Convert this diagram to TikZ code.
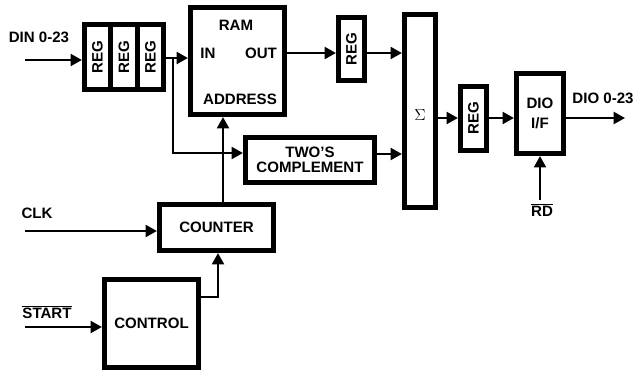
\documentclass[tikz,border=0pt]{standalone}
\usepackage{fontspec}
\setmainfont{Liberation Sans}
\usetikzlibrary{arrows.meta,calc}
\begin{document}
\begin{tikzpicture}[x=0.75pt,y=-0.75pt,
  lbl/.style={font=\bfseries\fontsize{11.3}{13}\selectfont, inner sep=0pt, align=center},
  blk/.style={draw, line width=3.5pt, fill=white, inner sep=0pt},
  sz/.style 2 args={minimum width={0.75pt*(#1-4.5)}, minimum height={0.75pt*(#2-4.5)}},
  con/.style={line width=1.6pt, -{Triangle[length=8.5pt,width=9pt]}},
  ln/.style={line width=1.6pt}]
\useasboundingbox (0,0) rectangle (634,373);
% blocks
\node[blk,sz={31}{70}] (r1) at (97.5,57) {};
\node[blk,sz={31}{70}] (r2) at (124,57) {};
\node[blk,sz={31}{70}] (r3) at (150.5,57) {};
\node[lbl,rotate=90] (t1) at (r1) {REG};
\node[lbl,rotate=90] (t2) at (r2) {REG};
\node[lbl,rotate=90] (t3) at (r3) {REG};
\node[blk,sz={99}{112}] (ram) at (237.5,61) {};
\node[lbl] (tram) at (236,25) {RAM};
\node[lbl] (tin) at (208,53) {IN};
\node[lbl] (tout) at (261,53) {OUT};
\node[lbl] (tadr) at (240,99) {ADDRESS};
\node[blk,sz={134}{50},lbl] (twoc) at (310,160) {TWO’S\\[-2pt]COMPLEMENT};
\node[blk,sz={119}{51},lbl] (ctr) at (216.5,227.5) {COUNTER};
\node[blk,sz={99}{93},lbl] (ctl) at (151.5,323.5) {CONTROL};
\node[blk,sz={31}{68}] (rb) at (351.5,49) {};
\node[lbl,rotate=90] (tb) at (rb) {REG};
\node[blk,sz={36}{198}] (sig) at (420,111) {};
\node[font=\fontsize{11.5}{13}\selectfont, inner sep=0pt] (tsig) at (420,115) {$\Sigma$};
\node[blk,sz={31}{69}] (rc) at (473.5,118.5) {};
\node[lbl,rotate=90] (tc) at (rc) {REG};
\node[blk,sz={52}{85},lbl] (dio) at (540,113.5) {DIO\\[2pt]I/F};
% labels
\node[lbl] (ldin) at (39,37) {DIN 0-23};
\node[lbl] (lclk) at (37,213) {CLK};
\node[lbl] (lstart) at (47,312) {$\overline{\mbox{\bfseries START}}$};
\node[lbl] (ldout) at (603,98) {DIO 0-23};
\node[lbl] (lrd) at (542,210) {$\overline{\mbox{\bfseries RD}}$};
% coordinates
\coordinate (din) at (25,60);
\coordinate (clk) at (25,231);
\coordinate (st) at (25,327);
\coordinate (br) at (173,58);
\coordinate (cx) at (223,0);
\coordinate (cy) at (218,297);
\coordinate (outy) at (0,53);
\coordinate (twy) at (0,153);
\coordinate (sgy) at (0,118);
\coordinate (dout) at (625,118);
\coordinate (rd) at (540,200);
% connectors
\draw[con] (din) -- (din -| r1.west);
\draw[con] (r3.east |- br) -- (ram.west |- br);
\draw[con] (br) |- (twoc.west |- twy);
\draw[con] (ctr.north -| cx) -- (ram.south -| cx);
\draw[con] (clk) -- (clk -| ctr.west);
\draw[con] (ctl.east |- cy) -| (ctr.south -| cy);
\draw[con] (st) -- (st -| ctl.west);
\draw[con] (ram.east |- outy) -- (rb.west |- outy);
\draw[con] (rb.east |- outy) -- (sig.west |- outy);
\draw[con] (twoc.east |- 0,154) -- (sig.west |- 0,154);
\draw[con] (sig.east |- sgy) -- (rc.west |- sgy);
\draw[con] (rc.east |- sgy) -- (dio.west |- sgy);
\draw[con] (dio.east |- dout) -- (dout);
\draw[con] (rd) -- (dio.south -| rd);
\end{tikzpicture}
\end{document}
